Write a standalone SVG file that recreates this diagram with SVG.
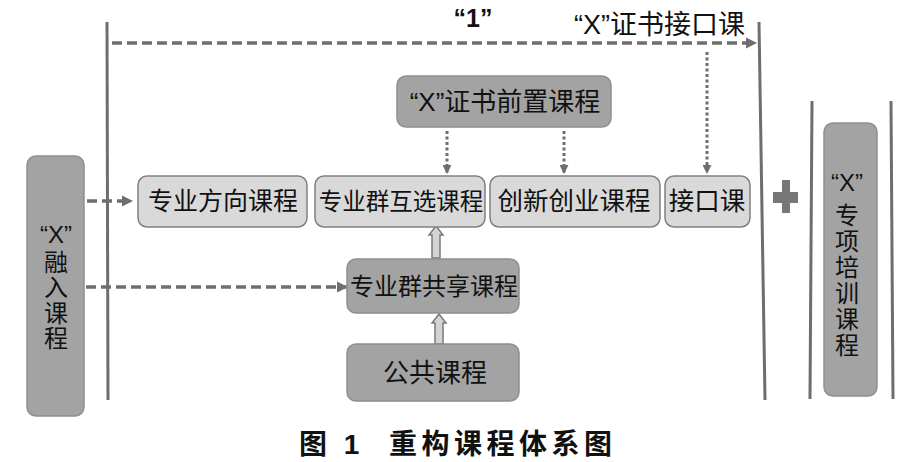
<svg xmlns="http://www.w3.org/2000/svg" width="918" height="462" viewBox="0 0 918 462">
<defs>
<style>
.t{font-family:"Liberation Sans","Noto Sans CJK SC",sans-serif;fill:#111;}
.dark{fill:#a3a3a3;stroke:#8f8f8f;stroke-width:1.5;}
.light{fill:#d9d9d9;stroke:#808080;stroke-width:1.5;}
.vl{stroke:#6e6e6e;stroke-width:3;fill:none;}
.dash{stroke:#6e6e6e;stroke-width:3.5;fill:none;stroke-dasharray:10 5;}
.dot{stroke:#6e6e6e;stroke-width:3;fill:none;stroke-dasharray:3 2.5;}
.hollow{fill:#d4d4d4;stroke:#7a7a7a;stroke-width:1.5;}
</style>
<marker id="ah" viewBox="0 0 10 10" refX="9" refY="5" markerWidth="3.2" markerHeight="3.2" orient="auto" markerUnits="strokeWidth">
<path d="M0,0 L10,5 L0,10 z" fill="#6e6e6e"/>
</marker>
<marker id="ahd" viewBox="0 0 10 10" refX="9" refY="5" markerWidth="3" markerHeight="3" orient="auto" markerUnits="strokeWidth">
<path d="M0,0 L10,5 L0,10 z" fill="#6e6e6e"/>
</marker>
</defs>
<rect width="918" height="462" fill="#fff"/>

<g id="frame">
<line class="vl" x1="107" y1="22" x2="108" y2="400"/>
<line class="vl" x1="759" y1="22" x2="765" y2="400"/>
<line class="vl" x1="812" y1="101" x2="810" y2="399"/>
<line class="vl" x1="891" y1="101" x2="893" y2="399"/>
<path id="plus" d="M782,180 H790 V192 H798 V203 H790 V213 H782 V203 H773 V192 H782 Z" fill="#777"/>
</g>

<g id="labels">
<text class="t" x="473" y="27" font-size="25" font-weight="bold" text-anchor="middle">“1”</text>
<text class="t" x="745" y="34" font-size="27" text-anchor="end">“X”证书接口课</text>
</g>

<g id="connectors">
<line class="dash" x1="112" y1="43" x2="756" y2="43" marker-end="url(#ah)"/>
<line class="dash" x1="87" y1="201" x2="132" y2="201" marker-end="url(#ah)"/>
<line class="dash" x1="86" y1="287" x2="347" y2="287" marker-end="url(#ah)"/>
<line class="dot" x1="447" y1="131" x2="447" y2="173" marker-end="url(#ahd)"/>
<line class="dot" x1="564" y1="131" x2="564" y2="173" marker-end="url(#ahd)"/>
<line class="dot" x1="707" y1="52" x2="707" y2="173" marker-end="url(#ahd)"/>
<polygon class="hollow" points="436,226 443,235 440,235 440,258 432,258 432,235 429,235"/>
<polygon class="hollow" points="439,314 446,323 443,323 443,344 435,344 435,323 432,323"/>
</g>

<g id="node-x-merge">
<rect class="dark" x="27" y="156" width="57" height="260" rx="9"/>
<text class="t" font-size="24" text-anchor="middle"><tspan x="56" y="243">“X”</tspan><tspan x="56" y="271">融</tspan><tspan x="56" y="296">入</tspan><tspan x="56" y="322">课</tspan><tspan x="56" y="347">程</tspan></text>
</g>

<g id="node-prep">
<rect class="dark" x="397" y="76" width="214" height="51" rx="9"/>
<text class="t" x="505" y="111" font-size="26" text-anchor="middle">“X”证书前置课程</text>
</g>

<g id="node-direction">
<rect class="light" x="138" y="176" width="169" height="51" rx="9"/>
<text class="t" x="223" y="210" font-size="25" text-anchor="middle">专业方向课程</text>
</g>

<g id="node-elective">
<rect class="light" x="315" y="176" width="170" height="51" rx="9"/>
<text class="t" x="401" y="210" font-size="23.5" text-anchor="middle">专业群互选课程</text>
</g>

<g id="node-innovation">
<rect class="light" x="490" y="176" width="170" height="51" rx="9"/>
<text class="t" x="574" y="210" font-size="25.5" text-anchor="middle">创新创业课程</text>
</g>

<g id="node-interface">
<rect class="light" x="665" y="176" width="85" height="51" rx="9"/>
<text class="t" x="707" y="210" font-size="25.5" text-anchor="middle">接口课</text>
</g>

<g id="node-shared">
<rect class="dark" x="347" y="259" width="172" height="54" rx="9"/>
<text class="t" x="434" y="295" font-size="24" text-anchor="middle">专业群共享课程</text>
</g>

<g id="node-public">
<rect class="dark" x="347" y="344" width="172" height="57" rx="9"/>
<text class="t" x="435" y="382" font-size="26" text-anchor="middle">公共课程</text>
</g>

<g id="node-x-training">
<rect class="dark" x="824" y="123" width="53" height="273" rx="9"/>
<text class="t" font-size="24" text-anchor="middle"><tspan x="847" y="191">“X”</tspan><tspan x="847" y="224">专</tspan><tspan x="847" y="250">项</tspan><tspan x="847" y="276">培</tspan><tspan x="847" y="302">训</tspan><tspan x="847" y="328">课</tspan><tspan x="847" y="354">程</tspan></text>
</g>

<g id="caption">
<text class="t" x="299" y="454" font-size="28" font-weight="bold" letter-spacing="4.5">图 1<tspan x="389">重构课程体系图</tspan></text>
</g>
</svg>
